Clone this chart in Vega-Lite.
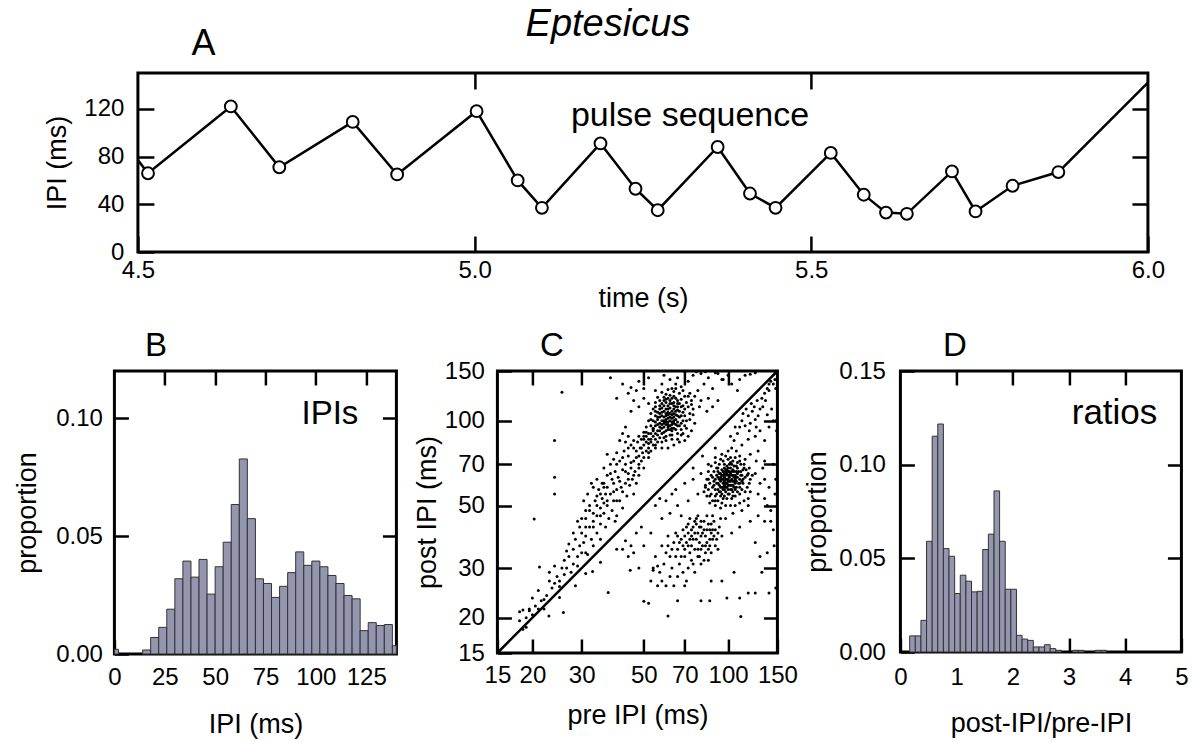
{
  "$schema": "https://vega.github.io/schema/vega-lite/v6.json",
  "padding": {"left": 12, "top": 4, "right": 2, "bottom": 0},
  "background": "white",
  "config": {
    "font": "Liberation Sans",
    "view": {"stroke": "black", "strokeWidth": 3},
    "axis": {"grid": false, "domain": false, "tickColor": "black", "tickWidth": 2.5, "tickSize": -14,
      "labelFont": "Liberation Sans", "labelFontSize": 24, "labelColor": "black", "labelOverlap": false, "labelFlush": false,
      "titleFont": "Liberation Sans", "titleFontSize": 27, "titleFontWeight": "normal", "titleColor": "black"}
  },
  "vconcat": [
    {
      "width": 1010, "height": 179,
      "title": {"text": "Eptesicus", "fontStyle": "italic", "fontSize": 38, "fontWeight": "normal", "font": "Liberation Sans", "color": "black", "frame": "group", "anchor": "middle", "dx": -35, "offset": -48, "baseline": "alphabetic"},
      "data": {"values": [
        {"time": 4.5, "ipi": 77, "marker": false},
        {"time": 4.515, "ipi": 66, "marker": true},
        {"time": 4.638, "ipi": 122, "marker": true},
        {"time": 4.71, "ipi": 71, "marker": true},
        {"time": 4.819, "ipi": 109, "marker": true},
        {"time": 4.885, "ipi": 65, "marker": true},
        {"time": 5.003, "ipi": 118, "marker": true},
        {"time": 5.064, "ipi": 60, "marker": true},
        {"time": 5.1, "ipi": 37, "marker": true},
        {"time": 5.187, "ipi": 91, "marker": true},
        {"time": 5.239, "ipi": 53, "marker": true},
        {"time": 5.272, "ipi": 35, "marker": true},
        {"time": 5.361, "ipi": 88, "marker": true},
        {"time": 5.409, "ipi": 49, "marker": true},
        {"time": 5.447, "ipi": 37, "marker": true},
        {"time": 5.529, "ipi": 83, "marker": true},
        {"time": 5.578, "ipi": 48, "marker": true},
        {"time": 5.611, "ipi": 33, "marker": true},
        {"time": 5.642, "ipi": 32, "marker": true},
        {"time": 5.709, "ipi": 67.5, "marker": true},
        {"time": 5.744, "ipi": 34, "marker": true},
        {"time": 5.799, "ipi": 55.5, "marker": true},
        {"time": 5.867, "ipi": 67, "marker": true},
        {"time": 6.0, "ipi": 142, "marker": false}
      ]},
      "layer": [
        {
          "mark": {"type": "line", "color": "black", "strokeWidth": 2.5},
          "encoding": {
            "x": {"field": "time", "type": "quantitative", "scale": {"domain": [4.5, 6], "nice": false, "zero": false},
              "axis": {"orient": "bottom", "values": [4.5, 5, 5.5, 6], "format": ".1f", "title": "time (s)", "tickSize": -16, "labelPadding": 22, "titlePadding": 3}},
            "y": {"field": "ipi", "type": "quantitative", "scale": {"domain": [0, 150], "nice": false},
              "axis": {"orient": "left", "values": [0, 40, 80, 120], "title": "IPI (ms)", "tickSize": -16, "labelPadding": 30, "titlePadding": 12}}
          }
        },
        {
          "transform": [{"filter": "datum.marker"}],
          "mark": {"type": "point", "shape": "circle", "filled": true, "fill": "white", "stroke": "black", "strokeWidth": 2, "size": 140, "opacity": 1},
          "encoding": {
            "x": {"field": "time", "type": "quantitative", "scale": {"domain": [4.5, 6], "nice": false, "zero": false}, "axis": null},
            "y": {"field": "ipi", "type": "quantitative", "scale": {"domain": [0, 150], "nice": false}, "axis": null}
          }
        },
        {
          "data": {"values": [{"label": "pulse sequence"}]},
          "mark": {"type": "text", "fontSize": 34, "font": "Liberation Sans", "baseline": "alphabetic", "align": "center", "color": "black"},
          "encoding": {
            "x": {"datum": 5.32, "type": "quantitative", "scale": {"domain": [4.5, 6], "nice": false, "zero": false},
              "axis": {"orient": "top", "values": [5, 5.5], "labels": false, "title": "A", "titleFontSize": 36, "titleX": 65, "titleAlign": "center", "titleBaseline": "alphabetic", "titlePadding": 17, "tickSize": -16}},
            "y": {"datum": 106, "type": "quantitative", "scale": {"domain": [0, 150], "nice": false},
              "axis": {"orient": "right", "values": [40, 80, 120], "labels": false, "title": null, "tickSize": -16}},
            "text": {"field": "label"}
          }
        }
      ],
      "resolve": {"axis": {"x": "independent", "y": "independent"}}
    },
    {
      "hconcat": [
        {
          "hconcat": [
            {
              "width": 282, "height": 283,
              "layer": [
                {
                  "data": {"values": [
                    {"lo": 0, "hi": 2, "p": 0.002}, {"lo": 14, "hi": 18, "p": 0.0017}, {"lo": 18, "hi": 22, "p": 0.007},
                    {"lo": 22, "hi": 26, "p": 0.0113}, {"lo": 26, "hi": 30, "p": 0.019}, {"lo": 30, "hi": 34, "p": 0.0319},
                    {"lo": 34, "hi": 38, "p": 0.0394}, {"lo": 38, "hi": 42, "p": 0.0326}, {"lo": 42, "hi": 46, "p": 0.0401},
                    {"lo": 46, "hi": 50, "p": 0.0254}, {"lo": 50, "hi": 54, "p": 0.037}, {"lo": 54, "hi": 58, "p": 0.0474},
                    {"lo": 58, "hi": 62, "p": 0.0634}, {"lo": 62, "hi": 66, "p": 0.0827}, {"lo": 66, "hi": 70, "p": 0.0574},
                    {"lo": 70, "hi": 74, "p": 0.0319}, {"lo": 74, "hi": 78, "p": 0.0299}, {"lo": 78, "hi": 82, "p": 0.024},
                    {"lo": 82, "hi": 86, "p": 0.0287}, {"lo": 86, "hi": 90, "p": 0.0345}, {"lo": 90, "hi": 94, "p": 0.0433},
                    {"lo": 94, "hi": 98, "p": 0.0376}, {"lo": 98, "hi": 102, "p": 0.0394}, {"lo": 102, "hi": 106, "p": 0.037},
                    {"lo": 106, "hi": 110, "p": 0.0333}, {"lo": 110, "hi": 114, "p": 0.0299}, {"lo": 114, "hi": 118, "p": 0.0248},
                    {"lo": 118, "hi": 122, "p": 0.0234}, {"lo": 122, "hi": 126, "p": 0.0099}, {"lo": 126, "hi": 130, "p": 0.0133},
                    {"lo": 130, "hi": 134, "p": 0.0121}, {"lo": 134, "hi": 138, "p": 0.0125}, {"lo": 138, "hi": 140, "p": 0.0035}
                  ]},
                  "mark": {"type": "rect", "fill": "#9495ae", "stroke": "#333333", "strokeWidth": 1},
                  "encoding": {
                    "x": {"field": "lo", "type": "quantitative", "scale": {"domain": [0, 140], "nice": false, "zero": false},
                      "axis": {"orient": "bottom", "values": [0, 25, 50, 75, 100, 125], "title": "IPI (ms)", "labelPadding": 25, "titlePadding": 22}},
                    "x2": {"field": "hi"},
                    "y": {"field": "p", "type": "quantitative", "scale": {"domain": [0, 0.12], "nice": false},
                      "axis": {"orient": "left", "values": [0, 0.05, 0.1], "format": ".2f", "title": "proportion", "labelPadding": 26, "titlePadding": 14}},
                    "y2": {"datum": 0}
                  }
                },
                {
                  "data": {"values": [{"label": "IPIs"}]},
                  "mark": {"type": "text", "fontSize": 33, "font": "Liberation Sans", "baseline": "alphabetic", "align": "center", "color": "black"},
                  "encoding": {
                    "x": {"datum": 107, "type": "quantitative", "scale": {"domain": [0, 140], "nice": false, "zero": false},
                      "axis": {"orient": "top", "values": [25, 50, 75, 100, 125], "labels": false, "title": "B", "titleFontSize": 33, "titleX": 41, "titleAlign": "center", "titleBaseline": "alphabetic", "titlePadding": 14}},
                    "y": {"datum": 0.0977, "type": "quantitative", "scale": {"domain": [0, 0.12], "nice": false},
                      "axis": {"orient": "right", "values": [0.05, 0.1], "labels": false, "title": null}},
                    "text": {"field": "label"}
                  }
                }
              ],
              "resolve": {"axis": {"x": "independent", "y": "independent"}}
            },
            {
              "width": 280, "height": 282,
              "layer": [
                {
                  "data": {"values": [
                    {"pre":61,"post":102},{"pre":59,"post":98},{"pre":63,"post":105},{"pre":57,"post":95},{"pre":65,"post":108},{"pre":60,"post":110},{"pre":62,"post":96},{"pre":58,"post":104},{"pre":64,"post":100},{"pre":66,"post":112},
                    {"pre":56,"post":92},{"pre":60,"post":88},{"pre":63,"post":115},{"pre":67,"post":103},{"pre":55,"post":99},{"pre":61,"post":107},{"pre":59,"post":113},{"pre":64,"post":94},{"pre":68,"post":98},{"pre":62,"post":118},
                    {"pre":57,"post":106},{"pre":60,"post":101},{"pre":63,"post":99},{"pre":58,"post":90},{"pre":66,"post":96},{"pre":54,"post":94},{"pre":65,"post":120},{"pre":61,"post":93},{"pre":59,"post":108},{"pre":62,"post":111},
                    {"pre":69,"post":107},{"pre":56,"post":101},{"pre":60,"post":97},{"pre":64,"post":106},{"pre":57,"post":87},{"pre":63,"post":92},{"pre":67,"post":115},{"pre":61,"post":99},{"pre":58,"post":111},{"pre":65,"post":101},
                    {"pre":53,"post":90},{"pre":60,"post":104},{"pre":62,"post":89},{"pre":66,"post":104},{"pre":59,"post":95},{"pre":64,"post":116},{"pre":55,"post":86},{"pre":61,"post":113},{"pre":63,"post":102},{"pre":58,"post":100},
                    {"pre":70,"post":110},{"pre":57,"post":98},{"pre":60,"post":116},{"pre":62,"post":106},{"pre":65,"post":93},{"pre":56,"post":107},{"pre":68,"post":104},{"pre":61,"post":97},{"pre":59,"post":103},{"pre":64,"post":110},
                    {"pre":54,"post":88},{"pre":60,"post":92},{"pre":66,"post":99},{"pre":63,"post":108},{"pre":57,"post":103},{"pre":61,"post":120},{"pre":58,"post":94},{"pre":65,"post":105},{"pre":62,"post":100},{"pre":67,"post":96},
                    {"pre":55,"post":96},{"pre":60,"post":106},{"pre":63,"post":97},{"pre":59,"post":91},{"pre":64,"post":103},{"pre":69,"post":100},{"pre":56,"post":97},{"pre":61,"post":110},{"pre":66,"post":109},{"pre":58,"post":107},
                    {"pre":62,"post":93},{"pre":60,"post":99},{"pre":65,"post":112},{"pre":57,"post":110},{"pre":63,"post":94},{"pre":59,"post":118},{"pre":64,"post":98},{"pre":68,"post":112},{"pre":55,"post":104},{"pre":61,"post":105},
                    {"pre":62,"post":123},{"pre":53,"post":86},{"pre":58,"post":84},{"pre":66,"post":118},{"pre":70,"post":104},{"pre":72,"post":112},{"pre":71,"post":100},{"pre":52,"post":83},{"pre":56,"post":84},{"pre":60,"post":85},
                    {"pre":54,"post":100},{"pre":66,"post":90},{"pre":68,"post":93},{"pre":73,"post":106},{"pre":74,"post":118},{"pre":70,"post":122},{"pre":67,"post":125},{"pre":64,"post":127},{"pre":60,"post":124},{"pre":57,"post":118},
                    {"pre":55,"post":112},
                    {"pre":50,"post":88},{"pre":51,"post":95},{"pre":52,"post":100},{"pre":53,"post":106},{"pre":54,"post":110},{"pre":55,"post":116},{"pre":56,"post":121},{"pre":58,"post":126},{"pre":61,"post":129},{"pre":65,"post":130},
                    {"pre":69,"post":128},{"pre":72,"post":122},{"pre":74,"post":114},{"pre":75,"post":105},{"pre":76,"post":98},{"pre":74,"post":92},{"pre":72,"post":88},{"pre":70,"post":85},{"pre":67,"post":84},{"pre":64,"post":82},
                    {"pre":61,"post":80},{"pre":58,"post":80},{"pre":55,"post":82},{"pre":52,"post":86},{"pre":51,"post":91},{"pre":53,"post":96},{"pre":57,"post":113},{"pre":60,"post":119},{"pre":64,"post":122},{"pre":68,"post":119},
                    {"pre":71,"post":116},{"pre":73,"post":101},{"pre":71,"post":94},{"pre":69,"post":90},{"pre":66,"post":86},{"pre":63,"post":86},{"pre":59,"post":87},{"pre":56,"post":89},{"pre":54,"post":93},{"pre":53,"post":101},
                    {"pre":55,"post":108},{"pre":58,"post":115},{"pre":62,"post":115},{"pre":66,"post":115},{"pre":69,"post":113},{"pre":70,"post":96},{"pre":68,"post":89},{"pre":63,"post":89},{"pre":57,"post":92},{"pre":55,"post":90},
                    {"pre":59,"post":121},{"pre":63,"post":120},{"pre":67,"post":108},{"pre":65,"post":97},{"pre":61,"post":95},{"pre":59,"post":100},{"pre":62,"post":103},{"pre":64,"post":113},{"pre":58,"post":97},{"pre":56,"post":103},
                    {"pre":50,"post":130},{"pre":55,"post":128},{"pre":58,"post":135},{"pre":62,"post":140},{"pre":68,"post":132},{"pre":72,"post":138},{"pre":75,"post":145},{"pre":80,"post":147},{"pre":85,"post":142},{"pre":90,"post":148},
                    {"pre":78,"post":128},{"pre":73,"post":125},{"pre":82,"post":135},{"pre":88,"post":130},{"pre":95,"post":140},{"pre":66,"post":142},{"pre":59,"post":145},{"pre":52,"post":142},{"pre":48,"post":138},{"pre":45,"post":131},
                    {"pre":70,"post":149},{"pre":77,"post":149},{"pre":83,"post":149},{"pre":65,"post":135},{"pre":63,"post":130},{"pre":76,"post":122},{"pre":80,"post":118},{"pre":85,"post":120},{"pre":88,"post":112},{"pre":92,"post":118},
                    {"pre":84,"post":108},{"pre":79,"post":112},{"pre":75,"post":110},{"pre":38,"post":142},{"pre":42,"post":135},{"pre":44,"post":125},{"pre":46,"post":118},{"pre":48,"post":112},{"pre":45,"post":108},{"pre":40,"post":120},
                    {"pre":50,"post":120},{"pre":52,"post":115},{"pre":47,"post":128},
                    {"pre":18,"post":19.5},{"pre":18.5,"post":18.2},{"pre":19,"post":20},{"pre":19.5,"post":21.2},{"pre":20,"post":20.5},{"pre":20.5,"post":22},{"pre":21,"post":21.5},{"pre":18,"post":21},{"pre":19,"post":18.5},{"pre":21.5,"post":23},
                    {"pre":22,"post":21.5},{"pre":20,"post":23.5},{"pre":22.5,"post":24},{"pre":23,"post":27},{"pre":23.5,"post":25.5},{"pre":24,"post":26.5},{"pre":24.5,"post":28},{"pre":25,"post":27},{"pre":25.5,"post":30},{"pre":23,"post":29},
                    {"pre":24,"post":30.5},{"pre":25,"post":25.8},{"pre":26,"post":28.5},{"pre":26,"post":32},{"pre":22,"post":23.2},{"pre":26.5,"post":30},{"pre":27,"post":33},{"pre":27.5,"post":29},{"pre":28,"post":35},{"pre":28,"post":31},
                    {"pre":28.5,"post":38},{"pre":29,"post":33},{"pre":29.5,"post":36},{"pre":30,"post":40},{"pre":27,"post":36.5},{"pre":29,"post":30.5},{"pre":30,"post":34},{"pre":26.5,"post":34.5},{"pre":29.5,"post":42},{"pre":30.5,"post":37},
                    {"pre":31,"post":45},{"pre":31,"post":39},{"pre":31.5,"post":33.5},{"pre":32,"post":42},{"pre":32,"post":48},{"pre":32.5,"post":38},{"pre":33,"post":44},{"pre":33,"post":36},{"pre":33.5,"post":52},{"pre":34,"post":46},
                    {"pre":34,"post":40},{"pre":34.5,"post":57},{"pre":35,"post":49},{"pre":35,"post":43},{"pre":30.5,"post":52},{"pre":31.5,"post":55},{"pre":32.5,"post":60},{"pre":33,"post":58},{"pre":34,"post":62},{"pre":35,"post":38},
                    {"pre":31,"post":34},{"pre":35.5,"post":53},{"pre":36,"post":47},{"pre":36,"post":58},{"pre":36.5,"post":42},{"pre":37,"post":50},{"pre":37,"post":64},{"pre":37.5,"post":45},{"pre":38,"post":55},{"pre":38,"post":70},
                    {"pre":38.5,"post":48},{"pre":39,"post":60},{"pre":39,"post":52},{"pre":39.5,"post":66},{"pre":40,"post":57},{"pre":40,"post":46},{"pre":36,"post":68},{"pre":37,"post":76},{"pre":38.5,"post":62},{"pre":39.5,"post":44},
                    {"pre":36.5,"post":55},{"pre":35.5,"post":60},{"pre":40.5,"post":63},{"pre":41,"post":52},{"pre":41,"post":72},{"pre":41.5,"post":58},{"pre":42,"post":67},{"pre":42,"post":49},{"pre":42.5,"post":78},{"pre":43,"post":60},
                    {"pre":43,"post":70},{"pre":43.5,"post":54},{"pre":44,"post":65},{"pre":44,"post":75},{"pre":44.5,"post":59},{"pre":45,"post":68},{"pre":45,"post":82},{"pre":45.5,"post":62},{"pre":46,"post":72},{"pre":46,"post":55},
                    {"pre":41,"post":85},{"pre":42,"post":90},{"pre":43,"post":95},{"pre":40,"post":77},{"pre":44,"post":88},{"pre":46.5,"post":66},{"pre":47,"post":78},{"pre":47,"post":60},{"pre":47.5,"post":84},{"pre":48,"post":70},
                    {"pre":48,"post":75},{"pre":48.5,"post":80},{"pre":49,"post":72},{"pre":49,"post":86},{"pre":49.5,"post":77},{"pre":50,"post":82},{"pre":50,"post":68},{"pre":51,"post":78},{"pre":51,"post":88},{"pre":52,"post":80},
                    {"pre":52,"post":74},{"pre":53,"post":84},{"pre":53,"post":78},{"pre":54,"post":82},{"pre":54,"post":92},{"pre":55,"post":80},{"pre":50,"post":91},{"pre":48,"post":64},{"pre":46,"post":80},
                    {"pre":30,"post":45},{"pre":32,"post":50},{"pre":34,"post":54},{"pre":36,"post":60},{"pre":38,"post":65},{"pre":40,"post":70},{"pre":42,"post":74},{"pre":44,"post":80},{"pre":46,"post":85},{"pre":48,"post":88},
                    {"pre":50,"post":86},{"pre":52,"post":90},{"pre":33,"post":42},{"pre":35,"post":46},{"pre":37,"post":52},{"pre":39,"post":56},{"pre":41,"post":61},{"pre":43,"post":66},{"pre":45,"post":71},{"pre":47,"post":74},
                    {"pre":49,"post":80},{"pre":28,"post":40},{"pre":29,"post":44},{"pre":31,"post":48},{"pre":36,"post":51},{"pre":40,"post":52},{"pre":42,"post":56},{"pre":44,"post":62},{"pre":46,"post":64},{"pre":48,"post":68},
                    {"pre":50,"post":74},{"pre":52,"post":77},{"pre":51,"post":84},{"pre":43,"post":84},{"pre":39,"post":73},{"pre":37,"post":58},{"pre":35,"post":55},{"pre":34,"post":50},{"pre":33,"post":47},{"pre":31,"post":42},
                    {"pre":22.9,"post":20.3},{"pre":25.8,"post":20.9},{"pre":25,"post":23.6},{"pre":37.3,"post":24.6},{"pre":44.7,"post":29.5},{"pre":32.8,"post":29.2},{"pre":31,"post":28.7},{"pre":42,"post":35},{"pre":44,"post":33},{"pre":43,"post":37.5},
                    {"pre":45,"post":36},{"pre":28.5,"post":26},{"pre":35,"post":31.5},{"pre":40,"post":35},{"pre":47,"post":40},
                    {"pre":25.5,"post":126},{"pre":24,"post":85},{"pre":24,"post":63},{"pre":24,"post":55},{"pre":20.3,"post":44.8},{"pre":21.2,"post":30.3},{"pre":21,"post":25},{"pre":18.5,"post":21.3},{"pre":19.5,"post":21.5},
                    {"pre":100,"post":62},{"pre":98,"post":60},{"pre":103,"post":64},{"pre":95,"post":58},{"pre":105,"post":66},{"pre":101,"post":59},{"pre":97,"post":63},{"pre":104,"post":61},{"pre":99,"post":65},{"pre":94,"post":61},
                    {"pre":107,"post":63},{"pre":102,"post":57},{"pre":96,"post":66},{"pre":100,"post":68},{"pre":93,"post":56},{"pre":106,"post":60},{"pre":98,"post":64},{"pre":103,"post":59},{"pre":91,"post":60},{"pre":108,"post":65},
                    {"pre":99,"post":58},{"pre":101,"post":63},{"pre":95,"post":62},{"pre":104,"post":67},{"pre":97,"post":57},{"pre":110,"post":62},{"pre":92,"post":63},{"pre":100,"post":55},{"pre":102,"post":65},{"pre":96,"post":60},
                    {"pre":105,"post":58},{"pre":94,"post":65},{"pre":109,"post":60},{"pre":98,"post":67},{"pre":101,"post":61},{"pre":93,"post":59},{"pre":106,"post":64},{"pre":99,"post":62},{"pre":103,"post":70},{"pre":90,"post":57},
                    {"pre":97,"post":61},{"pre":111,"post":66},{"pre":95,"post":55},{"pre":100,"post":64},{"pre":104,"post":56},{"pre":92,"post":66},{"pre":107,"post":61},{"pre":98,"post":56},{"pre":102,"post":61},{"pre":96,"post":64},
                    {"pre":105,"post":63},{"pre":89,"post":61},{"pre":100,"post":59},{"pre":108,"post":68},{"pre":94,"post":58},{"pre":101,"post":66},{"pre":97,"post":59},{"pre":103,"post":62},{"pre":91,"post":55},{"pre":112,"post":64},
                    {"pre":99,"post":60},{"pre":95,"post":64},{"pre":106,"post":57},{"pre":100,"post":66},{"pre":93,"post":62},{"pre":104,"post":59},{"pre":98,"post":62},{"pre":102,"post":68},{"pre":96,"post":57},{"pre":110,"post":58},
                    {"pre":88,"post":58},{"pre":101,"post":64},{"pre":97,"post":65},{"pre":105,"post":61},{"pre":92,"post":60},{"pre":99,"post":67},{"pre":103,"post":57},{"pre":94,"post":63},{"pre":107,"post":66},{"pre":100,"post":61},
                    {"pre":90,"post":54},{"pre":108,"post":63},{"pre":96,"post":62},{"pre":102,"post":59},{"pre":98,"post":58},{"pre":115,"post":63},{"pre":113,"post":60},{"pre":116,"post":67},{"pre":118,"post":65},{"pre":120,"post":62},
                    {"pre":114,"post":70},{"pre":112,"post":57},{"pre":87,"post":55},{"pre":86,"post":60},{"pre":85,"post":57},{"pre":88,"post":52},{"pre":90,"post":50},{"pre":92,"post":52},{"pre":95,"post":51},{"pre":87,"post":64},
                    {"pre":89,"post":66},{"pre":91,"post":68},{"pre":93,"post":70},{"pre":96,"post":72},{"pre":100,"post":73},{"pre":104,"post":72},{"pre":108,"post":71},{"pre":111,"post":70},{"pre":117,"post":58},{"pre":119,"post":68},
                    {"pre":122,"post":64},{"pre":84,"post":54},{"pre":86,"post":51},{"pre":99,"post":53},{"pre":103,"post":53},{"pre":106,"post":54},{"pre":94,"post":54},{"pre":97,"post":70},{"pre":101,"post":70},{"pre":85,"post":62},
                    {"pre":83,"post":59},{"pre":110,"post":55},{"pre":113,"post":67},{"pre":115,"post":56},{"pre":95,"post":76},{"pre":100,"post":78},{"pre":90,"post":74},
                    {"pre":82,"post":56},{"pre":84,"post":62},{"pre":85,"post":66},{"pre":87,"post":69},{"pre":90,"post":71},{"pre":94,"post":73},{"pre":98,"post":75},{"pre":102,"post":74},{"pre":106,"post":74},{"pre":110,"post":72},
                    {"pre":114,"post":68},{"pre":117,"post":64},{"pre":119,"post":60},{"pre":120,"post":56},{"pre":118,"post":53},{"pre":114,"post":52},{"pre":110,"post":51},{"pre":106,"post":50},{"pre":102,"post":50},{"pre":98,"post":50},
                    {"pre":94,"post":49},{"pre":90,"post":52},{"pre":86,"post":54},{"pre":83,"post":58},{"pre":88,"post":63},{"pre":92,"post":68},{"pre":97,"post":68},{"pre":102,"post":71},{"pre":107,"post":69},{"pre":111,"post":64},
                    {"pre":113,"post":62},{"pre":110,"post":60},{"pre":107,"post":58},{"pre":104,"post":54},{"pre":101,"post":55},{"pre":96,"post":53},{"pre":92,"post":57},{"pre":89,"post":59},{"pre":91,"post":64},{"pre":95,"post":67},
                    {"pre":99,"post":69},{"pre":105,"post":69},{"pre":109,"post":66},{"pre":112,"post":61},{"pre":108,"post":56},{"pre":97,"post":54},{"pre":94,"post":56},{"pre":90,"post":62},{"pre":93,"post":65},{"pre":98,"post":66},
                    {"pre":103,"post":66},{"pre":106,"post":62},{"pre":104,"post":64},{"pre":96,"post":58},{"pre":100,"post":57},
                    {"pre":75,"post":38},{"pre":78,"post":40},{"pre":72,"post":36},{"pre":80,"post":42},{"pre":83,"post":39},{"pre":76,"post":35},{"pre":86,"post":41},{"pre":70,"post":39},{"pre":79,"post":37},{"pre":82,"post":44},
                    {"pre":74,"post":41},{"pre":88,"post":38},{"pre":77,"post":43},{"pre":73,"post":34},{"pre":81,"post":36},{"pre":85,"post":43},{"pre":69,"post":36},{"pre":84,"post":37},{"pre":87,"post":40},{"pre":71,"post":42},
                    {"pre":90,"post":41},{"pre":79,"post":33},{"pre":76,"post":44},{"pre":68,"post":38},{"pre":74,"post":32},{"pre":83,"post":34},{"pre":89,"post":44},{"pre":80,"post":39},{"pre":72,"post":40},{"pre":86,"post":36},
                    {"pre":78,"post":35},{"pre":91,"post":38},{"pre":70,"post":33},{"pre":82,"post":41},{"pre":75,"post":42},{"pre":66,"post":35},{"pre":64,"post":37},{"pre":62,"post":33},{"pre":60,"post":34},{"pre":67,"post":31},
                    {"pre":63,"post":30},{"pre":58,"post":36},{"pre":65,"post":40},{"pre":61,"post":39},{"pre":59,"post":31},{"pre":69,"post":29},{"pre":72,"post":30},{"pre":66,"post":28},{"pre":62,"post":28},{"pre":57,"post":29},
                    {"pre":55,"post":33},{"pre":56,"post":26},{"pre":60,"post":26},{"pre":64,"post":26},{"pre":54,"post":30},{"pre":93,"post":42},{"pre":95,"post":39},{"pre":92,"post":35},{"pre":94,"post":45},{"pre":88,"post":46},
                    {"pre":84,"post":46},{"pre":78,"post":46},{"pre":73,"post":45},{"pre":80,"post":31},{"pre":85,"post":32},{"pre":71,"post":27},{"pre":76,"post":29},{"pre":68,"post":33},{"pre":87,"post":34},{"pre":90,"post":36},
                    {"pre":74,"post":36},{"pre":77,"post":38},{"pre":81,"post":40},{"pre":84,"post":41},{"pre":87,"post":43},{"pre":79,"post":42},{"pre":76,"post":40},{"pre":73,"post":38},{"pre":71,"post":37},{"pre":83,"post":36},
                    {"pre":86,"post":38},{"pre":89,"post":39},{"pre":80,"post":35},{"pre":78,"post":33},{"pre":75,"post":31},{"pre":82,"post":32},{"pre":85,"post":35},{"pre":88,"post":41},{"pre":70,"post":35},{"pre":67,"post":37},
                    {"pre":65,"post":33},{"pre":63,"post":35},{"pre":61,"post":36},{"pre":66,"post":39},{"pre":69,"post":41},{"pre":72,"post":43},{"pre":92,"post":40},{"pre":80,"post":44},{"pre":77,"post":45},{"pre":74,"post":39},
                    {"pre":52,"post":22.5},{"pre":53,"post":27},{"pre":54,"post":29.5},{"pre":61,"post":20.3},{"pre":66,"post":23},{"pre":70,"post":26},{"pre":80,"post":23},{"pre":87,"post":27},{"pre":95,"post":27},{"pre":99,"post":23.5},
                    {"pre":105,"post":29},{"pre":110,"post":23.5},{"pre":111,"post":20.2},{"pre":118,"post":24.5},{"pre":125,"post":24.5},{"pre":132,"post":29},{"pre":140,"post":24.5},{"pre":148,"post":25.5},{"pre":86,"post":23},{"pre":50,"post":22.9},
                    {"pre":130,"post":33},{"pre":138,"post":34},{"pre":145,"post":41},{"pre":120,"post":44},{"pre":125,"post":37},{"pre":110,"post":42},{"pre":103,"post":40},{"pre":98,"post":45},{"pre":112,"post":48},{"pre":128,"post":46},
                    {"pre":135,"post":53},{"pre":142,"post":48},{"pre":147,"post":55},{"pre":104,"post":47},{"pre":118,"post":50},{"pre":56,"post":30.5},{"pre":58,"post":27},{"pre":48,"post":30},{"pre":46,"post":34},{"pre":50,"post":36},
                    {"pre":53,"post":40},{"pre":49,"post":42},
                    {"pre":55,"post":50},{"pre":60,"post":52},{"pre":65,"post":57},{"pre":70,"post":60},{"pre":75,"post":68},{"pre":80,"post":65},{"pre":62,"post":47},{"pre":58,"post":45},{"pre":66,"post":50},{"pre":72,"post":52},
                    {"pre":78,"post":55},{"pre":68,"post":46},{"pre":85,"post":70},{"pre":90,"post":80},{"pre":81,"post":75},{"pre":75,"post":62},{"pre":63,"post":55},{"pre":57,"post":53},
                    {"pre":112,"post":100},{"pre":118,"post":104},{"pre":115,"post":96},{"pre":122,"post":108},{"pre":125,"post":101},{"pre":110,"post":95},{"pre":120,"post":98},{"pre":116,"post":110},{"pre":124,"post":112},{"pre":128,"post":104},
                    {"pre":113,"post":106},{"pre":119,"post":92},{"pre":126,"post":95},{"pre":108,"post":90},{"pre":130,"post":110},{"pre":132,"post":120},{"pre":135,"post":125},{"pre":138,"post":130},{"pre":140,"post":128},{"pre":142,"post":138},
                    {"pre":145,"post":135},{"pre":147,"post":140},{"pre":148,"post":130},{"pre":136,"post":118},{"pre":133,"post":112},{"pre":127,"post":118},{"pre":121,"post":115},{"pre":105,"post":85},{"pre":103,"post":80},{"pre":107,"post":78},
                    {"pre":112,"post":82},{"pre":118,"post":86},{"pre":125,"post":88},{"pre":130,"post":92},{"pre":135,"post":85},{"pre":140,"post":95},{"pre":145,"post":100},{"pre":148,"post":100},{"pre":149,"post":92},{"pre":143,"post":110},
                    {"pre":138,"post":105},{"pre":110,"post":75},{"pre":115,"post":73},{"pre":120,"post":76},{"pre":128,"post":78},{"pre":135,"post":72},{"pre":145,"post":70},{"pre":102,"post":88},{"pre":106,"post":95},{"pre":140,"post":135},
                    {"pre":103,"post":135},{"pre":110,"post":140},{"pre":115,"post":145},{"pre":120,"post":146},{"pre":125,"post":148},{"pre":108,"post":128},{"pre":100,"post":145},{"pre":96,"post":140},{"pre":92,"post":147},
                    {"pre":125,"post":65},{"pre":130,"post":60},{"pre":135,"post":62},{"pre":140,"post":58},{"pre":128,"post":55},{"pre":138,"post":50},{"pre":133,"post":68},{"pre":126,"post":72},{"pre":148,"post":62},{"pre":142,"post":44},
                    {"pre":135,"post":44},{"pre":146,"post":36}
                  ]},
                  "mark": {"type": "point", "shape": "circle", "filled": true, "color": "black", "size": 9, "opacity": 1},
                  "encoding": {
                    "x": {"field": "pre", "type": "quantitative", "scale": {"type": "log", "domain": [15, 150], "nice": false},
                      "axis": {"orient": "bottom", "values": [15, 20, 30, 50, 70, 100, 150], "format": "d", "title": "pre IPI (ms)", "labelPadding": 24, "titlePadding": 15}},
                    "y": {"field": "post", "type": "quantitative", "scale": {"type": "log", "domain": [15, 150], "nice": false},
                      "axis": {"orient": "left", "values": [15, 20, 30, 50, 70, 100, 150], "format": "d", "title": "post IPI (ms)", "labelPadding": 27, "titlePadding": 3}}
                  }
                },
                {
                  "data": {"values": [{"pre": 15, "post": 15}, {"pre": 150, "post": 150}]},
                  "mark": {"type": "line", "color": "black", "strokeWidth": 2.5},
                  "encoding": {
                    "x": {"field": "pre", "type": "quantitative", "scale": {"type": "log", "domain": [15, 150], "nice": false},
                      "axis": {"orient": "top", "values": [20, 30, 50, 70, 100], "labels": false, "title": "C", "titleFontSize": 33, "titleX": 54, "titleAlign": "center", "titleBaseline": "alphabetic", "titlePadding": 14}},
                    "y": {"field": "post", "type": "quantitative", "scale": {"type": "log", "domain": [15, 150], "nice": false},
                      "axis": {"orient": "right", "values": [20, 30, 50, 70, 100], "labels": false, "title": null}}
                  }
                }
              ],
              "resolve": {"axis": {"x": "independent", "y": "independent"}}
            }
          ],
          "spacing": 12
        },
        {
          "width": 281, "height": 281,
          "layer": [
            {
              "data": {"values": [
                {"lo": 0.165, "hi": 0.265, "p": 0.0086}, {"lo": 0.265, "hi": 0.365, "p": 0.0086}, {"lo": 0.365, "hi": 0.465, "p": 0.0169},
                {"lo": 0.465, "hi": 0.565, "p": 0.0591}, {"lo": 0.565, "hi": 0.665, "p": 0.1152}, {"lo": 0.665, "hi": 0.765, "p": 0.1217},
                {"lo": 0.765, "hi": 0.865, "p": 0.0552}, {"lo": 0.865, "hi": 0.965, "p": 0.0511}, {"lo": 0.965, "hi": 1.065, "p": 0.0312},
                {"lo": 1.065, "hi": 1.165, "p": 0.041}, {"lo": 1.165, "hi": 1.265, "p": 0.0378}, {"lo": 1.265, "hi": 1.365, "p": 0.0321},
                {"lo": 1.365, "hi": 1.465, "p": 0.0324}, {"lo": 1.465, "hi": 1.565, "p": 0.0547}, {"lo": 1.565, "hi": 1.665, "p": 0.0629},
                {"lo": 1.665, "hi": 1.765, "p": 0.086}, {"lo": 1.765, "hi": 1.865, "p": 0.0591}, {"lo": 1.865, "hi": 1.965, "p": 0.0335},
                {"lo": 1.965, "hi": 2.065, "p": 0.0335}, {"lo": 2.065, "hi": 2.165, "p": 0.0089}, {"lo": 2.165, "hi": 2.265, "p": 0.0069},
                {"lo": 2.265, "hi": 2.365, "p": 0.0062}, {"lo": 2.365, "hi": 2.465, "p": 0.0027}, {"lo": 2.465, "hi": 2.565, "p": 0.0027},
                {"lo": 2.565, "hi": 2.665, "p": 0.0039}, {"lo": 2.665, "hi": 2.765, "p": 0.0018}, {"lo": 2.765, "hi": 2.865, "p": 0.0009},
                {"lo": 3.065, "hi": 3.165, "p": 0.0009}, {"lo": 3.165, "hi": 3.265, "p": 0.0009}, {"lo": 3.465, "hi": 3.565, "p": 0.0009},
                {"lo": 3.565, "hi": 3.665, "p": 0.0009}
              ]},
              "mark": {"type": "rect", "fill": "#9495ae", "stroke": "#333333", "strokeWidth": 1},
              "encoding": {
                "x": {"field": "lo", "type": "quantitative", "scale": {"domain": [0, 5], "nice": false, "zero": false},
                  "axis": {"orient": "bottom", "values": [0, 1, 2, 3, 4, 5], "format": "d", "title": "post-IPI/pre-IPI", "labelPadding": 27, "titlePadding": 21}},
                "x2": {"field": "hi"},
                "y": {"field": "p", "type": "quantitative", "scale": {"domain": [0, 0.15], "nice": false},
                  "axis": {"orient": "left", "values": [0, 0.05, 0.1, 0.15], "format": ".2f", "title": "proportion", "labelPadding": 29, "titlePadding": 7}},
                "y2": {"datum": 0}
              }
            },
            {
              "data": {"values": [{"label": "ratios"}]},
              "mark": {"type": "text", "fontSize": 35, "font": "Liberation Sans", "baseline": "alphabetic", "align": "center", "color": "black"},
              "encoding": {
                "x": {"datum": 3.81, "type": "quantitative", "scale": {"domain": [0, 5], "nice": false, "zero": false},
                  "axis": {"orient": "top", "values": [1, 2, 3, 4], "labels": false, "title": "D", "titleFontSize": 33, "titleX": 54, "titleAlign": "center", "titleBaseline": "alphabetic", "titlePadding": 14}},
                "y": {"datum": 0.1219, "type": "quantitative", "scale": {"domain": [0, 0.15], "nice": false},
                  "axis": {"orient": "right", "values": [0.05, 0.1], "labels": false, "title": null}},
                "text": {"field": "label"}
              }
            }
          ],
          "resolve": {"axis": {"x": "independent", "y": "independent"}}
        }
      ],
      "spacing": 2
    }
  ],
  "spacing": 15,
  "center": true
}
